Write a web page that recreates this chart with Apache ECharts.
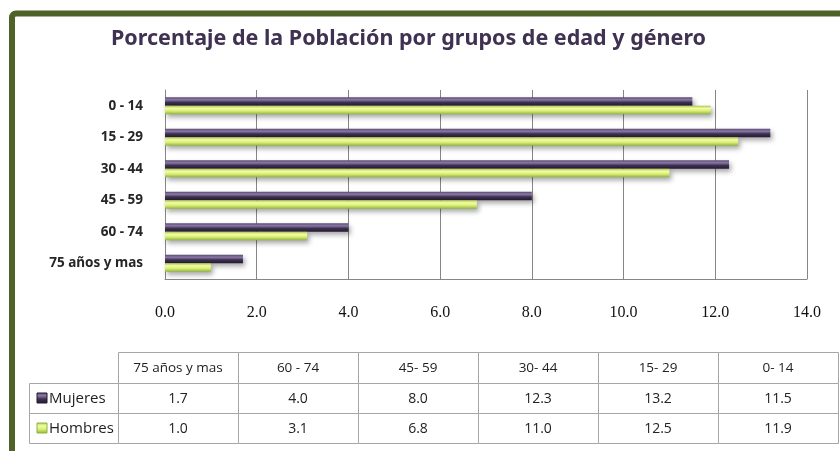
<!DOCTYPE html>
<html>
<head>
<meta charset="utf-8">
<script src="https://cdn.jsdelivr.net/npm/echarts@6/dist/echarts.min.js"></script>
<style>
    html, body {margin: 0; padding: 0; background: #fff;}
    #chart {width: 840px; height: 451px;}
</style>
</head>
<body>
<div id="chart"></div>
<script>
// datos (orden de la tabla, de abajo hacia arriba en el grafico)
var categorias = ['75 años y mas', '60 - 74', '45 - 59', '30 - 44', '15 - 29', '0 - 14'];
var encabezados = ['75 años y mas', '60 - 74', '45- 59', '30- 44', '15- 29', '0- 14'];
var mujeres = [1.7, 4.0, 8.0, 12.3, 13.2, 11.5];
var hombres = [1.0, 3.1, 6.8, 11.0, 12.5, 11.9];

var colorMujeres = new echarts.graphic.LinearGradient(0, 0, 0, 1, [
    {offset: 0, color: '#5a4a70'},
    {offset: 0.3, color: '#8a78a6'},
    {offset: 0.6, color: '#3f3151'},
    {offset: 1, color: '#231a30'}
]);
var colorHombres = new echarts.graphic.LinearGradient(0, 0, 0, 1, [
    {offset: 0, color: '#a9c84e'},
    {offset: 0.3, color: '#f4fba6'},
    {offset: 0.6, color: '#dcef74'},
    {offset: 1, color: '#8db443'}
]);

// tabla de datos debajo del grafico
function tabla() {
    var els = [];
    var x0 = 118, colW = 120, labX = 29;
    var rowY = [352, 383, 413, 443];
    var borde = '#a6a6a6';
    var txt = '#222';
    for (var i = 0; i < encabezados.length; i++) {
        var cx = x0 + i * colW;
        for (var r = 0; r < 3; r++) {
            els.push({
                type: 'rect',
                shape: {x: cx + 0.5, y: rowY[r] + 0.5, width: colW, height: rowY[r + 1] - rowY[r]},
                style: {fill: '#fff', stroke: borde, lineWidth: 1}
            });
        }
        els.push({
            type: 'text', x: cx + colW / 2, y: (rowY[0] + rowY[1]) / 2 + 1,
            style: {text: encabezados[i], font: '13.5px "Open Sans"', fill: txt, align: 'center', verticalAlign: 'middle'}
        });
        els.push({
            type: 'text', x: cx + colW / 2, y: (rowY[1] + rowY[2]) / 2 + 1,
            style: {text: mujeres[i].toFixed(1), font: '14px "Open Sans"', fill: txt, align: 'center', verticalAlign: 'middle'}
        });
        els.push({
            type: 'text', x: cx + colW / 2, y: (rowY[2] + rowY[3]) / 2 + 1,
            style: {text: hombres[i].toFixed(1), font: '14px "Open Sans"', fill: txt, align: 'center', verticalAlign: 'middle'}
        });
    }
    var nombres = ['Mujeres', 'Hombres'];
    var colores = [colorMujeres, colorHombres];
    for (var k = 0; k < 2; k++) {
        var y = rowY[k + 1];
        els.push({
            type: 'rect',
            shape: {x: labX + 0.5, y: y + 0.5, width: x0 - labX, height: rowY[k + 2] - y},
            style: {fill: '#fff', stroke: borde, lineWidth: 1}
        });
        els.push({
            type: 'rect',
            shape: {x: labX + 8, y: y + 10, width: 10, height: 10},
            style: {fill: colores[k], stroke: k ? '#8db443' : '#231a30', lineWidth: 1}
        });
        els.push({
            type: 'text', x: labX + 20, y: (y + rowY[k + 2]) / 2 + 1,
            style: {text: nombres[k], font: '15px "Open Sans"', fill: txt, align: 'left', verticalAlign: 'middle'}
        });
    }
    return els;
}

var myChart = echarts.init(document.getElementById('chart'));

var option = {
    animation: false,
    backgroundColor: '#fff',
    title: {
        text: 'Porcentaje de la Población por grupos de edad y género',
        left: 106,
        top: 23,
        textStyle: {
            color: '#3f3151',
            fontFamily: 'Noto Sans',
            fontSize: 21.5,
            fontWeight: 'bold'
        }
    },
    grid: {left: 165, right: 33, top: 90, bottom: 172, containLabel: false},
    xAxis: {
        type: 'value',
        min: 0,
        max: 14,
        interval: 2,
        position: 'bottom',
        axisLine: {show: true, lineStyle: {color: '#868686'}},
        axisTick: {show: false},
        axisLabel: {
            margin: 26,
            color: '#111',
            fontFamily: 'Liberation Serif',
            fontSize: 16,
            formatter: function (v) { return v.toFixed(1); }
        },
        splitLine: {show: true, lineStyle: {color: '#868686', width: 1}}
    },
    yAxis: {
        type: 'category',
        data: categorias,
        axisLine: {show: true, lineStyle: {color: '#868686'}},
        axisTick: {show: false},
        axisLabel: {
            margin: 22,
            color: '#262626',
            fontFamily: 'Noto Sans',
            fontWeight: 'bold',
            fontSize: 13.5
        },
        splitLine: {show: false}
    },
    series: [
        {
            name: 'Mujeres',
            type: 'bar',
            data: mujeres,
            barWidth: 8.5,
            barGap: '0%',
            itemStyle: {
                color: colorMujeres,
                shadowColor: 'rgba(0,0,0,0.35)',
                shadowBlur: 5,
                shadowOffsetX: 2,
                shadowOffsetY: 3
            }
        },
        {
            name: 'Hombres',
            type: 'bar',
            data: hombres,
            barWidth: 8.5,
            barGap: '0%',
            itemStyle: {
                color: colorHombres,
                shadowColor: 'rgba(0,0,0,0.35)',
                shadowBlur: 5,
                shadowOffsetX: 2,
                shadowOffsetY: 3
            }
        }
    ],
    graphic: [
        {
            type: 'rect',
            z: 100,
            shape: {x: 12, y: 13.5, width: 900, height: 500, r: 4},
            style: {fill: 'none', stroke: '#4f6228', lineWidth: 6}
        }
    ].concat(tabla())
};

myChart.setOption(option);
window.addEventListener('resize', function () {
    myChart.resize();
});
</script>
</body>
</html>
